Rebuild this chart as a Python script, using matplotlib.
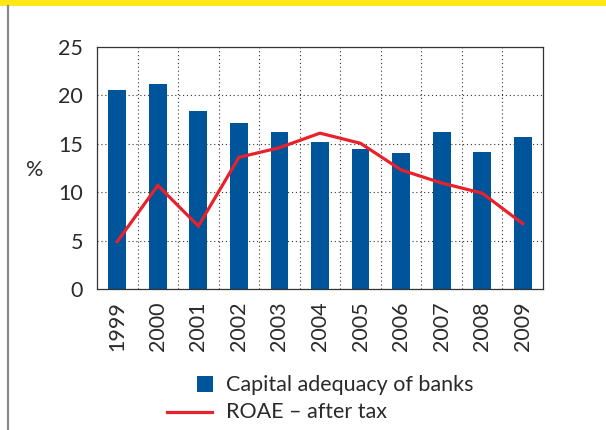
import matplotlib
matplotlib.use("Agg")
import matplotlib.pyplot as plt
from matplotlib.patches import Rectangle
from matplotlib.lines import Line2D
import numpy as np

years = ["1999", "2000", "2001", "2002", "2003", "2004", "2005", "2006", "2007", "2008", "2009"]
capital_adequacy = [20.6, 21.2, 18.4, 17.2, 16.25, 15.2, 14.5, 14.0, 16.25, 14.2, 15.7]
roae_after_tax = [4.9, 10.7, 6.5, 13.6, 14.6, 16.1, 15.05, 12.3, 10.95, 9.9, 6.75]
y_ticks = [0, 5, 10, 15, 20, 25]

BLUE = "#00549A"
RED = "#E8212B"
FONT = "Lato"
FW = "normal"
FS = 15.5
TXT = "#2a2a2a"

W, H = 606, 430
fig = plt.figure(figsize=(W / 100, H / 100), dpi=100)
fig.patch.set_facecolor("white")

# decorations: yellow band at top, gray vertical line at left
fig.patches.append(Rectangle((0, (H - 6) / H), 1, 6 / H, transform=fig.transFigure,
                             facecolor="#FFE816", edgecolor="none"))
fig.lines.append(Line2D([7.5 / W, 7.5 / W], [0, (H - 6) / H], transform=fig.transFigure,
                        color="#8a8a8a", linewidth=1.6))

left, right, top, bottom = 97, 543, 47, 289
ax = fig.add_axes([left / W, (H - bottom) / H, (right - left) / W, (bottom - top) / H])

x = np.arange(len(years))
ax.bar(x, capital_adequacy, width=0.44, color=BLUE, zorder=2)
ax.plot(x, roae_after_tax, color=RED, linewidth=2.3, zorder=3, solid_joinstyle="miter")

ax.set_xlim(-0.5, len(years) - 0.5)
ax.set_ylim(0, 25)
ax.set_yticks(y_ticks)
ax.set_yticklabels([str(v) for v in y_ticks], fontsize=FS, family=FONT, weight=FW, color=TXT)
ax.set_xticks(x)
ax.set_xticklabels(years, rotation=90, fontsize=FS, family=FONT, weight=FW, color=TXT)
ax.set_xticks(np.arange(0.5, len(years) - 0.5, 1), minor=True)
ax.tick_params(axis="both", which="both", length=0)
ax.tick_params(axis="y", pad=10)
ax.tick_params(axis="x", pad=9)

ax.grid(True, axis="y", which="major", linestyle=(0, (1, 2.5)), color="#333333", linewidth=0.8, zorder=1)
ax.grid(True, axis="x", which="minor", linestyle=(0, (1, 2.5)), color="#333333", linewidth=0.8, zorder=1)
ax.grid(False, axis="x", which="major")
ax.set_axisbelow(True)
for s in ax.spines.values():
    s.set_color("#333333")
    s.set_linewidth(0.9)

fig.text(35 / W, 1 - 170 / H, "%", fontsize=FS, family=FONT, weight=FW, color=TXT,
         ha="center", va="center")

# legend
fig.patches.append(Rectangle((197 / W, 1 - 392 / H), 16 / W, 16 / H, transform=fig.transFigure,
                             facecolor=BLUE, edgecolor="none"))
fig.lines.append(Line2D([167 / W, 212 / W], [1 - 412 / H, 1 - 412 / H], transform=fig.transFigure,
                        color=RED, linewidth=2.3))
fig.text(226 / W, 1 - 385 / H, "Capital adequacy of banks", fontsize=FS, family=FONT, weight=FW,
         color=TXT, ha="left", va="center")
fig.text(226 / W, 1 - 412 / H, "ROAE \u2013 after tax", fontsize=FS, family=FONT, weight=FW,
         color=TXT, ha="left", va="center")

fig.savefig("out.png", dpi=100)
